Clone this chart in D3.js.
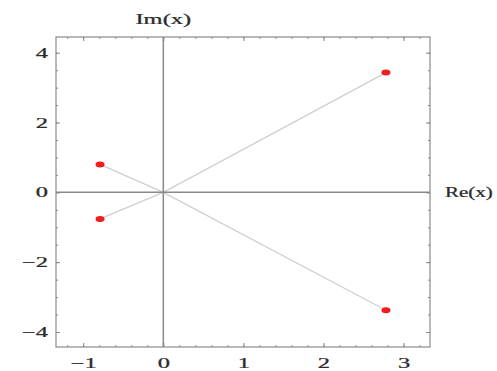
<!DOCTYPE html>
<html>
<head>
<meta charset="utf-8">
<script src="https://cdn.jsdelivr.net/npm/d3@7"></script>
<style>
  body { margin: 0; background: #fff; }
  svg text { font-family: "Liberation Serif", "DejaVu Serif", serif; fill: #2a2a2a; stroke: #2a2a2a; stroke-width: 0.25; }
</style>
</head>
<body>
<svg id="rootsPlot" width="497" height="371"></svg>
<script>
// roots of the polynomial
var reParts = [-0.79, -0.79, 2.78, 2.78];
var imParts = [0.8, -0.76, 3.43, -3.38];
var xTicks = [-1, 0, 1, 2, 3];
var yTicks = [-4, -2, 0, 2, 4];
var xDomain = [-1.34, 3.33];
var yDomain = [-4.43, 4.45];

var svg = d3.select("#rootsPlot"),
  margin = { top: 37, right: 67, bottom: 24, left: 56 },
  width = +svg.attr("width") - margin.left - margin.right,
  height = +svg.attr("height") - margin.top - margin.bottom;

var stretch = 1.75; // glyphs in the picture are stretched sideways

var x = d3.scaleLinear().domain(xDomain).range([0, width]);
var y = d3.scaleLinear().domain(yDomain).range([height, 0]);

var g = svg
  .append("g")
  .attr("transform", "translate(" + margin.left + "," + margin.top + ")");

var roots = reParts.map(function(d, i) {
  return { re: d, im: imParts[i] };
});

function minorTicks(lo, hi, step) {
  var out = [];
  for (var v = Math.ceil(lo / step) * step; v <= hi + 1e-9; v += step) {
    out.push(+v.toFixed(3));
  }
  return out;
}

function styleAxis(sel) {
  sel.select(".domain").remove();
  sel.selectAll("line").attr("stroke", "#888").attr("stroke-width", 1);
}

// lines from origin to each root
g.selectAll(".rootLine")
  .data(roots)
  .enter()
  .append("line")
  .attr("class", "rootLine")
  .attr("x1", x(0))
  .attr("y1", y(0))
  .attr("x2", function(d) { return x(d.re); })
  .attr("y2", function(d) { return y(d.im); })
  .attr("stroke", "#cfcfcf")
  .attr("stroke-width", 1.2);

// axes through the origin
g.append("line")
  .attr("x1", 0).attr("x2", width)
  .attr("y1", y(0)).attr("y2", y(0))
  .attr("stroke", "#8a8a8a").attr("stroke-width", 1.5);
g.append("line")
  .attr("x1", x(0)).attr("x2", x(0))
  .attr("y1", 0).attr("y2", height)
  .attr("stroke", "#8a8a8a").attr("stroke-width", 1.5);

// frame
g.append("rect")
  .attr("width", width)
  .attr("height", height)
  .attr("fill", "none")
  .attr("stroke", "#8a8a8a")
  .attr("stroke-width", 1.2);

var xMinor = minorTicks(xDomain[0], xDomain[1], 0.2);
var yMinor = minorTicks(yDomain[0], yDomain[1], 0.5);

// minor ticks on all four sides
g.append("g").attr("transform", "translate(0," + height + ")")
  .call(d3.axisBottom(x).tickValues(xMinor).tickSize(-2).tickFormat(""))
  .call(styleAxis);
g.append("g")
  .call(d3.axisTop(x).tickValues(xMinor).tickSize(-2).tickFormat(""))
  .call(styleAxis);
g.append("g")
  .call(d3.axisLeft(y).tickValues(yMinor).tickSize(-2).tickFormat(""))
  .call(styleAxis);
g.append("g").attr("transform", "translate(" + width + ",0)")
  .call(d3.axisRight(y).tickValues(yMinor).tickSize(-2).tickFormat(""))
  .call(styleAxis);

// major ticks
var fmt = function(d) { return d < 0 ? "\u2212" + Math.abs(d) : d; };

var xAxis = g.append("g")
  .attr("transform", "translate(0," + height + ")")
  .call(d3.axisBottom(x).tickValues(xTicks).tickSize(-4).tickPadding(11).tickFormat(fmt))
  .call(styleAxis);
xAxis.selectAll("text")
  .attr("font-size", 14)
  .attr("transform", "scale(" + stretch + ",1)");

var yAxis = g.append("g")
  .call(d3.axisLeft(y).tickValues(yTicks).tickSize(-4).tickPadding(4.6).tickFormat(fmt))
  .call(styleAxis);
yAxis.selectAll("text")
  .attr("font-size", 14)
  .attr("transform", "scale(" + stretch + ",1)");

g.append("g")
  .call(d3.axisTop(x).tickValues(xTicks).tickSize(-4).tickFormat(""))
  .call(styleAxis);
g.append("g").attr("transform", "translate(" + width + ",0)")
  .call(d3.axisRight(y).tickValues(yTicks).tickSize(-4).tickFormat(""))
  .call(styleAxis);

// root markers
g.selectAll(".rootDot")
  .data(roots)
  .enter()
  .append("ellipse")
  .attr("class", "rootDot")
  .attr("cx", function(d) { return x(d.re); })
  .attr("cy", function(d) { return y(d.im); })
  .attr("rx", 4.5)
  .attr("ry", 3)
  .attr("fill", "#f21c1c");

// axis labels
g.append("text")
  .attr("transform", "translate(" + x(0) + ",-13) scale(" + stretch + ",1)")
  .attr("text-anchor", "middle")
  .attr("font-size", 14)
  .text("Im(x)");

// squeezed a little so it stays inside the window
g.append("text")
  .attr("transform", "translate(" + (width + 15) + "," + (y(0) + 5) + ") scale(1.5,1)")
  .attr("font-size", 14)
  .text("Re(x)");
</script>
</body>
</html>
